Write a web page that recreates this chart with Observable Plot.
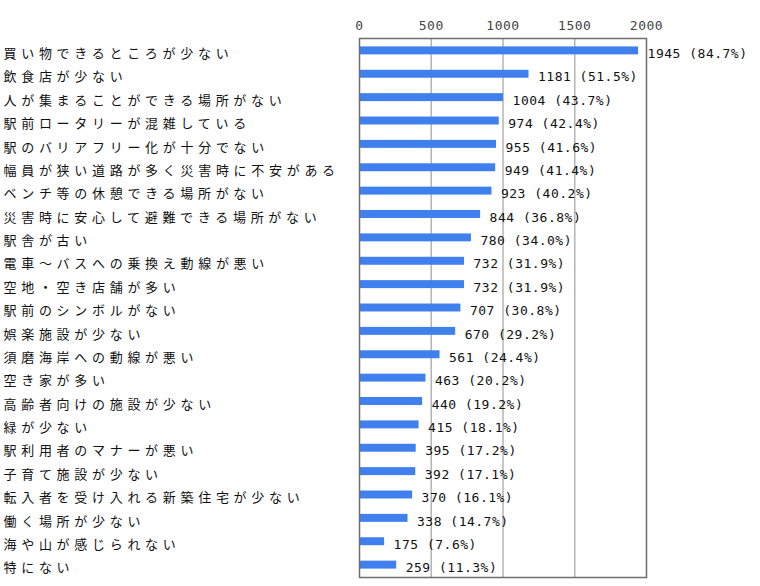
<!DOCTYPE html>
<html><head><meta charset="utf-8">
<script src="https://cdn.jsdelivr.net/npm/d3@7"></script>
<script src="https://cdn.jsdelivr.net/npm/@observablehq/plot@0.6"></script>
<style>
body{margin:0;background:#fff}
svg [aria-label="y-axis tick label"]{letter-spacing:4.7px}
svg [aria-label="x-axis tick label"]{letter-spacing:0.5px}
svg [aria-label="text"]{letter-spacing:0.5px}
</style>
</head><body><div id="chart"></div>
<script>
const categories = [
  "買い物できるところが少ない","飲食店が少ない","人が集まることができる場所がない","駅前ロータリーが混雑している",
  "駅のバリアフリー化が十分でない","幅員が狭い道路が多く災害時に不安がある","ベンチ等の休憩できる場所がない",
  "災害時に安心して避難できる場所がない","駅舎が古い","電車～バスへの乗換え動線が悪い","空地・空き店舗が多い",
  "駅前のシンボルがない","娯楽施設が少ない","須磨海岸への動線が悪い","空き家が多い","高齢者向けの施設が少ない",
  "緑が少ない","駅利用者のマナーが悪い","子育て施設が少ない","転入者を受け入れる新築住宅が少ない",
  "働く場所が少ない","海や山が感じられない","特にない"
];
const counts = [1945,1181,1004,974,955,949,923,844,780,732,732,707,670,561,463,440,415,395,392,370,338,175,259];
const percents = [84.7,51.5,43.7,42.4,41.6,41.4,40.2,36.8,34.0,31.9,31.9,30.8,29.2,24.4,20.2,19.2,18.1,17.2,17.1,16.1,14.7,7.6,11.3];
const xTicks = [0,500,1000,1500,2000];
const data = categories.map((c,i)=>({category:c,count:counts[i],pct:percents[i]}));
const chart = Plot.plot({
  width:760, height:586,
  marginTop:38, marginBottom:9, marginLeft:359, marginRight:114,
  style:{background:"#fff"},
  x:{domain:[0,2000], axis:null},
  y:{domain:categories, paddingInner:0.66, paddingOuter:0.36, round:false, axis:null},
  marks:[
    Plot.gridX(xTicks.slice(1,-1), {stroke:"#b4b4b4", strokeOpacity:1, strokeWidth:1.5}),
    Plot.barX(data, {x:"count", y:"category", fill:"#3f7fee"}),
    Plot.frame({stroke:"#6e6e6e", strokeWidth:1.5}),
    Plot.axisX({anchor:"top", ticks:xTicks, tickFormat:d=>String(d), tickSize:0, tickPadding:9, fontSize:13, fontFamily:"DejaVu Sans Mono", fill:"#444", label:null}),
    Plot.axisY({anchor:"left", tickSize:0, tickPadding:0, textAnchor:"start", dx:-356, dy:3, fontSize:13, fontFamily:"Noto Sans CJK JP", fill:"#111", label:null}),
    Plot.text(data, {x:"count", y:"category", text:d=>`${d.count} (${d.pct.toFixed(1)}%)`, textAnchor:"start", dx:9, dy:3, fontSize:13, fontFamily:"DejaVu Sans Mono", fill:"#111"})
  ]
});
document.getElementById("chart").appendChild(chart);
</script>
</body></html>
